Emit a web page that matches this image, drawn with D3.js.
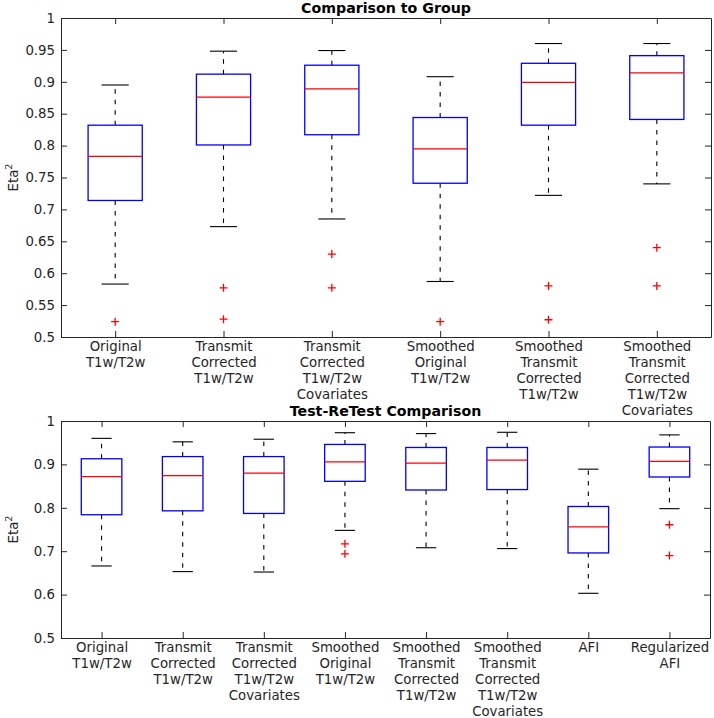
<!DOCTYPE html>
<html>
<head>
<meta charset="utf-8">
<script src="https://cdn.jsdelivr.net/npm/d3@7"></script>
<style>
  body { margin: 0; background: #fff; }
  text { font-family: "DejaVu Sans", sans-serif; fill: #262626; }
</style>
</head>
<body>
<div id="chart"></div>
<script>
// ---- data: top panel (Comparison to Group) ----
var groupCategories = [
  "Original\nT1w/T2w",
  "Transmit\nCorrected\nT1w/T2w",
  "Transmit\nCorrected\nT1w/T2w\nCovariates",
  "Smoothed\nOriginal\nT1w/T2w",
  "Smoothed\nTransmit\nCorrected\nT1w/T2w",
  "Smoothed\nTransmit\nCorrected\nT1w/T2w\nCovariates"
];
var groupUpper = [0.895, 0.948, 0.949, 0.908, 0.960, 0.960];
var groupQ3 = [0.832, 0.912, 0.926, 0.844, 0.929, 0.941];
var groupMedian = [0.783, 0.876, 0.889, 0.795, 0.899, 0.914];
var groupQ1 = [0.714, 0.801, 0.817, 0.741, 0.832, 0.841];
var groupLower = [0.583, 0.673, 0.685, 0.587, 0.722, 0.740];
var groupOutliers = [[0.524], [0.577, 0.528], [0.630, 0.577], [0.524], [0.580, 0.527], [0.640, 0.580]];
var groupTicks = [0.5, 0.55, 0.6, 0.65, 0.7, 0.75, 0.8, 0.85, 0.9, 0.95, 1];

// ---- data: bottom panel (Test-ReTest Comparison) ----
var retestCategories = [
  "Original\nT1w/T2w",
  "Transmit\nCorrected\nT1w/T2w",
  "Transmit\nCorrected\nT1w/T2w\nCovariates",
  "Smoothed\nOriginal\nT1w/T2w",
  "Smoothed\nTransmit\nCorrected\nT1w/T2w",
  "Smoothed\nTransmit\nCorrected\nT1w/T2w\nCovariates",
  "AFI",
  "Regularized\nAFI"
];
var retestUpper = [0.960, 0.952, 0.958, 0.973, 0.971, 0.974, 0.889, 0.968];
var retestQ3 = [0.913, 0.918, 0.918, 0.946, 0.939, 0.939, 0.803, 0.940];
var retestMedian = [0.872, 0.874, 0.880, 0.906, 0.903, 0.910, 0.756, 0.907];
var retestQ1 = [0.784, 0.793, 0.787, 0.861, 0.841, 0.842, 0.696, 0.871];
var retestLower = [0.666, 0.653, 0.652, 0.748, 0.708, 0.706, 0.603, 0.798];
var retestOutliers = [[], [], [], [0.717, 0.694], [], [], [], [0.761, 0.690]];
var retestTicks = [0.5, 0.6, 0.7, 0.8, 0.9, 1];

var svgWidth = 714;
var svgHeight = 718;

var svg = d3.select("#chart")
  .append("svg")
  .attr("width", svgWidth)
  .attr("height", svgHeight);

// draw one boxplot panel
function drawPanel(opts) {
  var n = opts.categories.length;

  var x = d3.scaleLinear()
    .domain([0.5, n + 0.5])
    .range([opts.left, opts.right]);

  var y = d3.scaleLinear()
    .domain([0.5, 1])
    .range([opts.bottom, opts.top]);

  var g = svg.append("g");
  var idx = d3.range(n);
  var boxHalf = (x(1.25) - x(1));
  var capHalf = boxHalf / 2;

  // whiskers (dashed)
  g.selectAll(".whiskerUp").data(idx).enter()
    .append("line")
    .attr("x1", (i) => x(i + 1)).attr("x2", (i) => x(i + 1))
    .attr("y1", (i) => y(opts.q3[i])).attr("y2", (i) => y(opts.upper[i]))
    .attr("stroke", "#000").attr("stroke-width", 1.1)
    .attr("stroke-dasharray", "4.5,6");

  g.selectAll(".whiskerDown").data(idx).enter()
    .append("line")
    .attr("x1", (i) => x(i + 1)).attr("x2", (i) => x(i + 1))
    .attr("y1", (i) => y(opts.q1[i])).attr("y2", (i) => y(opts.lower[i]))
    .attr("stroke", "#000").attr("stroke-width", 1.1)
    .attr("stroke-dasharray", "4.5,6");

  // caps
  [opts.upper, opts.lower].forEach(function (arr) {
    g.selectAll(null).data(idx).enter()
      .append("line")
      .attr("x1", (i) => x(i + 1) - capHalf).attr("x2", (i) => x(i + 1) + capHalf)
      .attr("y1", (i) => y(arr[i])).attr("y2", (i) => y(arr[i]))
      .attr("stroke", "#000").attr("stroke-width", 1.1);
  });

  // boxes
  g.selectAll(".box").data(idx).enter()
    .append("rect")
    .attr("x", (i) => x(i + 1) - boxHalf)
    .attr("width", boxHalf * 2)
    .attr("y", (i) => y(opts.q3[i]))
    .attr("height", (i) => y(opts.q1[i]) - y(opts.q3[i]))
    .attr("fill", "none")
    .attr("stroke", "#0000ff")
    .attr("stroke-width", 1.3);

  // medians
  g.selectAll(".median").data(idx).enter()
    .append("line")
    .attr("x1", (i) => x(i + 1) - boxHalf).attr("x2", (i) => x(i + 1) + boxHalf)
    .attr("y1", (i) => y(opts.median[i])).attr("y2", (i) => y(opts.median[i]))
    .attr("stroke", "#ff0000").attr("stroke-width", 1.3);

  // outliers as + markers
  var pts = [];
  opts.outliers.forEach(function (list, i) {
    list.forEach(function (v) { pts.push({ i: i, v: v }); });
  });
  g.selectAll(".outlier").data(pts).enter()
    .append("path")
    .attr("d", (d) => {
      var cx = x(d.i + 1), cy = y(d.v);
      return `M${cx - 4},${cy}H${cx + 4}M${cx},${cy - 4}V${cy + 4}`;
    })
    .attr("stroke", "#ff0000")
    .attr("stroke-width", 1.3)
    .attr("fill", "none");

  // axes, ticks inside
  var leftAxis = d3.axisLeft(y).tickValues(opts.ticks)
    .tickFormat(d3.format("~g")).tickSize(-6).tickSizeOuter(0).tickPadding(6);
  var rightAxis = d3.axisRight(y).tickValues(opts.ticks)
    .tickFormat("").tickSize(-6).tickSizeOuter(0);
  var bottomAxis = d3.axisBottom(x).tickValues(d3.range(1, n + 1))
    .tickSize(-6).tickSizeOuter(0).tickPadding(4);
  var topAxis = d3.axisTop(x).tickValues(d3.range(1, n + 1))
    .tickFormat("").tickSize(-6).tickSizeOuter(0);

  var gl = svg.append("g").attr("transform", `translate(${opts.left},0)`).call(leftAxis);
  svg.append("g").attr("transform", `translate(${opts.right},0)`).call(rightAxis);
  svg.append("g").attr("transform", `translate(0,${opts.top})`).call(topAxis);
  var gb = svg.append("g").attr("transform", `translate(0,${opts.bottom})`).call(bottomAxis);

  svg.selectAll(".domain").attr("stroke", "#262626").attr("stroke-width", 1);
  svg.selectAll(".tick line").attr("stroke", "#262626");

  gl.selectAll(".tick text").style("font-size", "13.3px").attr("fill", "#262626");

  // multi-line category labels
  gb.selectAll(".tick text")
    .text(null)
    .attr("fill", "#262626")
    .style("font-size", "13.3px")
    .attr("y", 0)
    .attr("dy", null)
    .each(function (d) {
      var lines = opts.categories[d - 1].split("\n");
      var t = d3.select(this);
      lines.forEach(function (line, k) {
        t.append("tspan")
          .attr("x", 0)
          .attr("y", 13.5 + k * 16)
          .text(line);
      });
    });

  // title
  svg.append("text")
    .attr("x", (opts.left + opts.right) / 2)
    .attr("y", opts.top - 5)
    .attr("text-anchor", "middle")
    .style("font-size", "14.2px")
    .style("font-weight", "bold")
    .style("fill", "#000")
    .text(opts.title);

  // y label with superscript
  var yl = svg.append("text")
    .attr("transform", `translate(18,${(opts.top + opts.bottom) / 2}) rotate(-90)`)
    .attr("text-anchor", "middle")
    .style("font-size", "13.3px");
  yl.append("tspan").text("Eta");
  yl.append("tspan").attr("dy", -6).style("font-size", "9.5px").text("2");
}

drawPanel({
  title: "Comparison to Group",
  categories: groupCategories,
  upper: groupUpper, q3: groupQ3, median: groupMedian, q1: groupQ1, lower: groupLower,
  outliers: groupOutliers,
  ticks: groupTicks,
  left: 61, right: 711, top: 18, bottom: 337
});

drawPanel({
  title: "Test-ReTest Comparison",
  categories: retestCategories,
  upper: retestUpper, q3: retestQ3, median: retestMedian, q1: retestQ1, lower: retestLower,
  outliers: retestOutliers,
  ticks: retestTicks,
  left: 61, right: 710, top: 421, bottom: 638
});
</script>
</body>
</html>
